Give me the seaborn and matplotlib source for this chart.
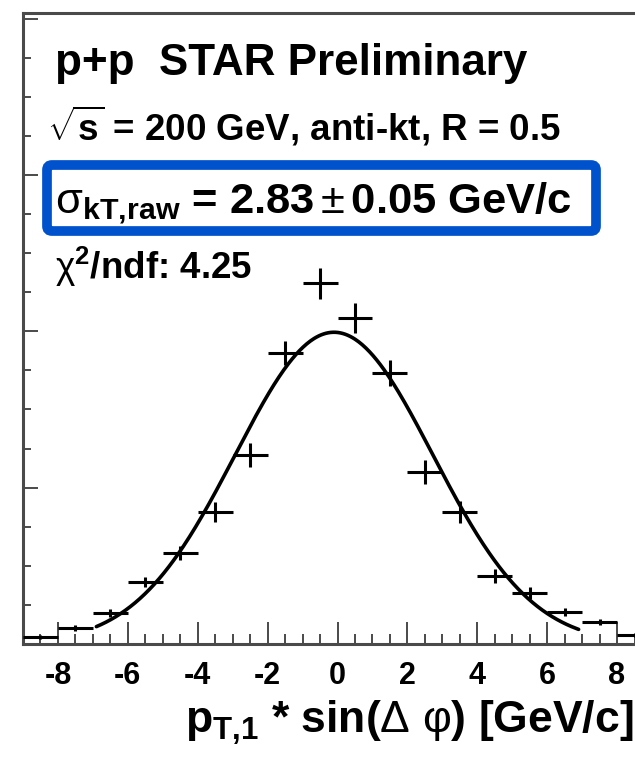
import numpy as np
import pandas as pd
import matplotlib
matplotlib.use("Agg")
import matplotlib.pyplot as plt
import matplotlib.transforms as mtransforms
from matplotlib.patches import FancyBboxPatch
from matplotlib.ticker import MultipleLocator, FixedLocator
import seaborn as sns

# ---- data: pT,1 * sin(dphi) distribution, 1 GeV/c bins ----
bin_centers = [-8.5, -7.5, -6.5, -5.5, -4.5, -3.5, -2.5, -1.5, -0.5,
               0.5, 1.5, 2.5, 3.5, 4.5, 5.5, 6.5, 7.5, 8.5]
yields = [0.0022, 0.0051, 0.0099, 0.0198, 0.0291, 0.0422, 0.0604, 0.0930, 0.1153,
          0.1042, 0.0866, 0.0550, 0.0422, 0.0217, 0.0163, 0.0102, 0.0070, 0.0029]
yield_errors = [0.0006, 0.0010, 0.0013, 0.0016, 0.0022, 0.0032, 0.0038, 0.0038, 0.0051,
                0.0048, 0.0042, 0.0038, 0.0035, 0.0022, 0.0019, 0.0013, 0.0010, 0.0006]
bin_half_width = 0.5

# Gaussian fit result
fit_amplitude = 0.0997
fit_mean = -0.1
fit_sigma = 2.83
fit_range = (-6.9, 6.9)

x_tick_values = [-8, -6, -4, -2, 0, 2, 4, 6, 8]

title_text = "p+p  STAR Preliminary"
energy_text = r"$\sqrt{s}$ = 200 GeV, anti-kt, R = 0.5"
sigma_text = r"$\mathsf{\sigma}_{\mathrm{kT{,}raw}}$ = 2.83$\,\mathsf{\pm}\,$0.05 GeV/c"
chi2_text = r"$\mathsf{\chi}^{2}$/ndf: 4.25"
x_title = r"$\mathrm{p}_{\mathrm{T{,}1}}$ * sin($\mathsf{\Delta}$ $\mathsf{\varphi}$) [GeV/c]"

# ---- style ----
sns.set_style("white")
plt.rcParams["font.family"] = ["Liberation Sans", "DejaVu Sans"]
plt.rcParams["text.color"] = "black"
plt.rcParams["xtick.color"] = "black"
plt.rcParams["mathtext.fontset"] = "custom"
plt.rcParams["mathtext.rm"] = "Liberation Sans:bold"
plt.rcParams["mathtext.it"] = "Liberation Sans:bold"
plt.rcParams["mathtext.bf"] = "Liberation Sans:bold"
plt.rcParams["mathtext.sf"] = "Liberation Sans:weight=normal"
plt.rcParams["mathtext.default"] = "rm"

FIG_W, FIG_H = 635, 766
DPI = 100
fig = plt.figure(figsize=(FIG_W / DPI, FIG_H / DPI), dpi=DPI)
fig.patch.set_facecolor("white")

# frame in pixels (left, right, top, bottom)
L, R, T, B = 23, 652, 13, 644
ax = fig.add_axes([L / FIG_W, (FIG_H - B) / FIG_H, (R - L) / FIG_W, (B - T) / FIG_H])
ax.set_facecolor("white")

df = pd.DataFrame({"x": bin_centers, "y": yields, "err": yield_errors})

# fitted Gaussian
fx = np.linspace(fit_range[0], fit_range[1], 400)
fy = fit_amplitude * np.exp(-0.5 * ((fx - fit_mean) / fit_sigma) ** 2)
sns.lineplot(x=fx, y=fy, ax=ax, color="black", linewidth=2.6, zorder=3)

# data points as crosses (bin width x stat. error)
ax.errorbar(df["x"], df["y"], xerr=bin_half_width, yerr=df["err"], fmt="none",
            ecolor="black", elinewidth=2.2, capsize=0, zorder=4)

ax.set_xlim(-9, 9)
ax.set_ylim(0, 0.2018)

ax.xaxis.set_major_locator(FixedLocator(x_tick_values))
ax.xaxis.set_minor_locator(MultipleLocator(0.5))
ax.yaxis.set_major_locator(MultipleLocator(0.05))
ax.yaxis.set_minor_locator(MultipleLocator(0.0125))
ax.set_xticklabels([str(v) for v in x_tick_values])

frame_color = "#4a4a4a"
for side in ["left", "bottom", "top"]:
    ax.spines[side].set_color(frame_color)
    ax.spines[side].set_linewidth(2.2)
ax.spines["right"].set_visible(False)

ax.tick_params(axis="x", which="major", direction="in", length=16, width=1.4,
               color=frame_color, labelsize=22, labelcolor="black", pad=12,
               bottom=True, top=False)
ax.tick_params(axis="x", which="minor", direction="in", length=7.5, width=1.4,
               color=frame_color, bottom=True, top=False)
ax.tick_params(axis="y", which="major", direction="in", length=11, width=1.4,
               color=frame_color, labelleft=False, left=True, right=False)
ax.tick_params(axis="y", which="minor", direction="in", length=6, width=1.4,
               color=frame_color, left=True, right=False)
for lab in ax.get_xticklabels():
    lab.set_fontweight("bold")

# axis title, right-aligned near the right edge, baseline in pixel rows
ax.set_xlabel(x_title, fontsize=32, fontweight="bold", ha="right", color="black")
ax.xaxis.set_label_coords((633 - L) / (R - L), ((FIG_H - 733) - (FIG_H - B)) / (B - T))
ax.xaxis.label.set_verticalalignment("baseline")

# text block, positioned in pixel coordinates from the top-left corner
top_px = mtransforms.Affine2D().scale(1, -1).translate(0, FIG_H)
fig.text(55, 75, title_text, transform=top_px, fontsize=31.7, fontweight="bold", va="baseline")
fig.text(47, 140, energy_text, transform=top_px, fontsize=26.5, fontweight="bold", va="baseline")
fig.text(55, 213, sigma_text, transform=top_px, fontsize=31.3, fontweight="bold", va="baseline")
fig.text(55, 279, chi2_text, transform=top_px, fontsize=26.5, fontweight="bold", va="baseline")

box = FancyBboxPatch((47, 165), 549, 66, boxstyle="round,pad=0,rounding_size=5",
                     transform=top_px, facecolor="none", edgecolor="#0052CC",
                     linewidth=7, zorder=10)
fig.patches.append(box)

fig.savefig("out.png", dpi=DPI, facecolor="white")
